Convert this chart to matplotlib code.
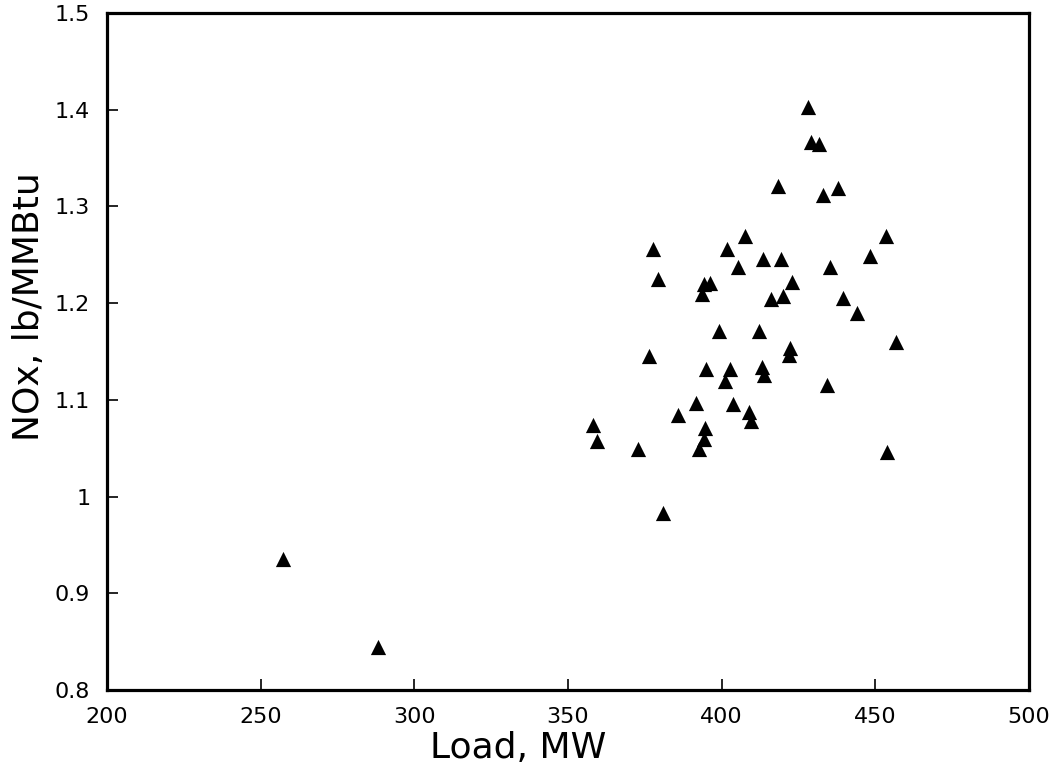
import matplotlib.pyplot as plt

plt.rcParams['font.family'] = 'DejaVu Sans'

# Load (MW) and NOx emission (lb/MMBtu)
load_mw = [257.2, 288.1, 358.3, 359.3, 372.9, 376.5, 377.8, 379.4, 381.0, 385.9,
           391.7, 392.7, 393.7, 394.3, 395.0, 394.7, 394.3, 396.3, 399.2, 401.2,
           401.8, 402.8, 403.8, 405.4, 407.7, 409.0, 409.6, 412.2, 413.2, 413.8,
           413.5, 416.1, 418.4, 419.4, 420.0, 422.0, 422.3, 422.9, 428.1, 429.1,
           431.7, 433.0, 434.3, 435.3, 437.9, 439.5, 444.1, 448.3, 453.5, 453.8,
           456.7]
nox = [0.935, 0.844, 1.074, 1.057, 1.049, 1.145, 1.256, 1.225, 0.983, 1.084,
       1.097, 1.049, 1.209, 1.220, 1.132, 1.071, 1.060, 1.221, 1.171, 1.120,
       1.256, 1.132, 1.096, 1.237, 1.269, 1.087, 1.078, 1.171, 1.134, 1.126,
       1.246, 1.204, 1.321, 1.246, 1.207, 1.146, 1.154, 1.222, 1.403, 1.367,
       1.365, 1.312, 1.115, 1.237, 1.319, 1.205, 1.190, 1.249, 1.269, 1.046,
       1.160]

x_ticks = [200, 250, 300, 350, 400, 450, 500]
y_ticks = [0.8, 0.9, 1.0, 1.1, 1.2, 1.3, 1.4, 1.5]
y_labels = ['0.8', '0.9', '1', '1.1', '1.2', '1.3', '1.4', '1.5']

fig = plt.figure(figsize=(10.57, 7.76), dpi=100)
ax = fig.add_axes([0.1012, 0.1108, 0.8723, 0.8724])

ax.scatter(load_mw, nox, marker='^', s=120, color='black', linewidths=0)

ax.set_xlim(200, 500)
ax.set_ylim(0.8, 1.5)
ax.set_xticks(x_ticks)
ax.set_yticks(y_ticks)
ax.set_yticklabels(y_labels)
ax.tick_params(direction='in', length=8, width=1.2, labelsize=16, pad=12,
               colors='black')

for s in ax.spines.values():
    s.set_linewidth(2.3)

ax.set_xlabel('Load, MW', fontsize=26)
ax.xaxis.set_label_coords(0.446, -0.06)
ax.set_ylabel('NOx, lb/MMBtu', fontsize=26)
ax.yaxis.set_label_coords(-0.066, 0.566)

fig.savefig('out.png', dpi=100)
